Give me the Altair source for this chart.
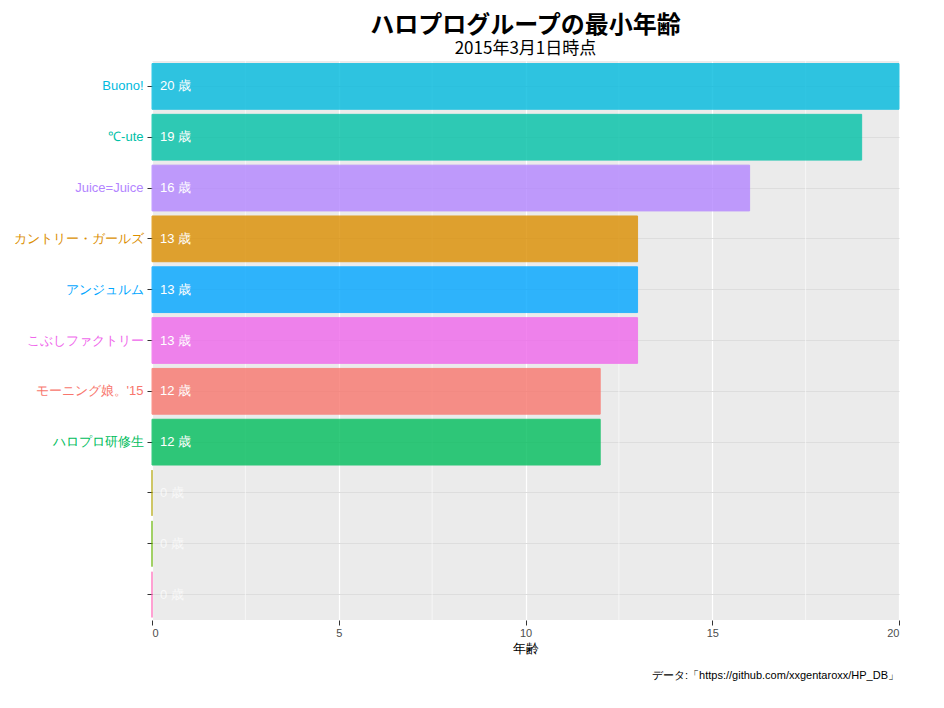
import altair as alt
import pandas as pd
import json

groups = ["Buono!", "℃-ute", "Juice=Juice", "カントリー・ガールズ", "アンジュルム",
          "こぶしファクトリー", "モーニング娘。'15", "ハロプロ研修生", " ", "  ", "   "]
ages = [20, 19, 16, 13, 13, 13, 12, 12, 0, 0, 0]
colors = ["#00BADE", "#00C1A7", "#B385FF", "#DB8E00", "#00A6FF",
          "#EF67EB", "#F8766D", "#00BD5C", "#AEA200", "#64B200", "#FF63B6"]
minor = [2.5, 7.5, 12.5, 17.5]

df = pd.DataFrame({"group": groups, "age": ages, "color": colors})
df["label"] = df["age"].astype(str) + " 歳"
F = "Liberation Sans"
cmap = json.dumps(dict(zip(groups, colors)), ensure_ascii=False)

y = alt.Y("group:N", sort=groups, title=None,
          scale=alt.Scale(paddingInner=0.1, paddingOuter=0.05),
          axis=alt.Axis(labelFontSize=13, labelFont=F, labelPadding=4, tickColor="#333",
                        domain=False, labelColor=alt.expr(cmap + "[datum.value]")))
x = alt.X("age:Q", title="年齢", scale=alt.Scale(domain=[0, 20], nice=False),
          axis=alt.Axis(values=[0, 5, 10, 15, 20], gridColor="white", gridWidth=1.2,
                        labelColor="#4D4D4D", labelFontSize=11, tickColor="#333", domain=False,
                        titleFontSize=13, titleFontWeight="normal", titleColor="black", labelFont=F))

grid = alt.Chart(pd.DataFrame({"m": minor})).mark_rule(color="white", strokeWidth=0.6).encode(x=alt.X("m:Q"))
bars = alt.Chart(df).mark_bar(opacity=0.8, strokeWidth=1).encode(
    x=x, y=y, fill=alt.Color("color:N", scale=None), stroke=alt.Color("color:N", scale=None))
text = alt.Chart(df).mark_text(align="left", dx=8, color="white", fontSize=13, font=F).encode(
    x=alt.datum(0), y=alt.Y("group:N", sort=groups), text="label:N",
    opacity=alt.condition("datum.age > 0", alt.value(1), alt.value(0.7)))
cap = alt.Chart(pd.DataFrame({"t": ["データ:「https://github.com/xxgentaroxx/HP_DB」"]})).mark_text(
    align="right", fontSize=11, font=F).encode(text="t:N", x=alt.value(747), y=alt.value(615))

chart = alt.layer(grid, bars, text, cap).properties(
    width=747, height=559,
    title=alt.TitleParams("ハロプログループの最小年齢", subtitle="2015年3月1日時点",
                          fontSize=24, fontWeight="bold", subtitleFontSize=17, subtitleColor="black",
                          font="Noto Sans CJK JP", subtitleFont="Noto Sans CJK JP", anchor="middle", offset=4)
).configure_view(fill="#EBEBEB", stroke=None).configure_axis(grid=True)

chart.save("out.html", embed_options={"renderer": "svg", "actions": False})
